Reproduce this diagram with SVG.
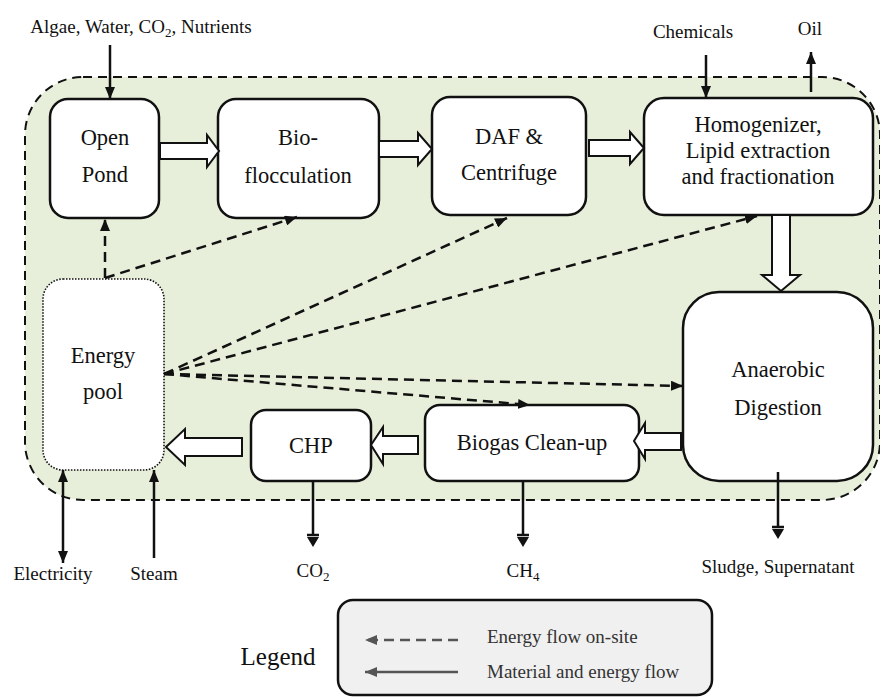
<svg xmlns="http://www.w3.org/2000/svg" width="880" height="697" viewBox="0 0 880 697" font-family="'Liberation Serif', 'DejaVu Serif', serif">
<defs>
<style>
text{font-family:'Liberation Serif','DejaVu Serif',serif;fill:#111}
.lbl{font-size:22.5px;text-anchor:middle}
.out{font-size:19px;text-anchor:middle}
.box{fill:#fff;stroke:#111;stroke-width:2.5}
.blk{fill:#fff;stroke:#111;stroke-width:2;stroke-linejoin:miter}
.dash{fill:none;stroke:#111;stroke-width:2.5;stroke-dasharray:10 6}
.solid{fill:none;stroke:#111;stroke-width:2.5}
.head{fill:#111}
</style>
<marker id="ah" viewBox="0 0 12 10" refX="12" refY="5" markerWidth="12" markerHeight="10" markerUnits="userSpaceOnUse" orient="auto-start-reverse"><path d="M0,0 L12,5 L0,10 z" fill="#111"/></marker>
<marker id="ahg" viewBox="0 0 12 10" refX="12" refY="5" markerWidth="12" markerHeight="10" markerUnits="userSpaceOnUse" orient="auto"><path d="M0,0 L12,5 L0,10 z" fill="#555"/></marker>
</defs>
<rect width="880" height="697" fill="#fff"/>
<g id="boundary">
<rect x="25" y="77" width="855" height="423" rx="58" fill="#e7efda" stroke="#111" stroke-width="2" stroke-dasharray="9 6"/>
</g>
<g id="open-pond"><rect class="box" x="50" y="99" width="109" height="119" rx="18"/><text class="lbl" x="105" y="145">Open</text><text class="lbl" x="105" y="182">Pond</text></g>
<g id="bioflocculation"><rect class="box" x="218" y="99" width="161" height="119" rx="18"/><text class="lbl" x="298" y="145">Bio-</text><text class="lbl" x="298" y="183">flocculation</text></g>
<g id="daf"><rect class="box" x="432" y="97" width="154" height="118" rx="18"/><text class="lbl" x="509" y="144">DAF &amp;</text><text class="lbl" x="509" y="180">Centrifuge</text></g>
<g id="homogenizer"><rect class="box" x="644" y="98" width="229" height="117" rx="20"/><text class="lbl" x="758" y="132">Homogenizer,</text><text class="lbl" x="758" y="158">Lipid extraction</text><text class="lbl" x="758" y="184">and fractionation</text></g>
<g id="anaerobic"><rect class="box" x="683" y="292" width="190" height="189" rx="36"/><text class="lbl" x="778" y="377">Anaerobic</text><text class="lbl" x="778" y="415">Digestion</text></g>
<g id="biogas"><rect class="box" x="425" y="405" width="214" height="76" rx="15"/><text class="lbl" x="532" y="450">Biogas Clean-up</text></g>
<g id="chp"><rect class="box" x="251" y="410" width="120" height="71" rx="15"/><text class="lbl" x="311" y="453">CHP</text></g>
<g id="energy-pool"><rect x="43" y="279" width="121" height="191" rx="20" fill="#fff" stroke="#111" stroke-width="1.6" stroke-dasharray="1.5 1.5"/><text class="lbl" x="103" y="363">Energy</text><text class="lbl" x="103" y="399">pool</text></g>
<g id="connectors">
<polygon class="blk" points="160,143 207,143 207,135 219,151 207,167 207,159 160,159"/>
<polygon class="blk" points="379,141 418,141 418,133 432,149 418,165 418,157 379,157"/>
<polygon class="blk" points="589,140 630,140 630,132 644,148 630,164 630,156 589,156"/>
<polygon class="blk" points="772,215 772,275 762,275 781,291 800,275 790,275 790,215"/>
<polygon class="blk" points="681,433 645,433 645,423 634,441 645,459 645,450 681,450"/>
<polygon class="blk" points="418,436 383,436 383,427 371,445 383,464 383,454 418,454"/>
<polygon class="blk" points="242,438 185,438 185,429 166,447 185,465 185,456 242,456"/>
<path class="dash" d="M105,278 L105,219" marker-end="url(#ah)"/>
<path class="dash" d="M105,278 L297,217" marker-end="url(#ah)"/>
<path class="dash" d="M164,374 L507,218" marker-end="url(#ah)"/>
<path class="dash" d="M164,374 L757,216" marker-end="url(#ah)"/>
<path class="dash" d="M164,374 L683,386" marker-end="url(#ah)"/>
<path class="dash" d="M164,374 L530,405" marker-end="url(#ah)"/>
<path class="solid" d="M110,45 L110,99" marker-end="url(#ah)"/>
<path class="solid" d="M706,55 L706,98" marker-end="url(#ah)"/>
<path class="solid" d="M811,92 L811,52" marker-end="url(#ah)"/>
<path class="solid" d="M63,563 L63,470" marker-start="url(#ah)" marker-end="url(#ah)"/>
<path class="solid" d="M154,558 L154,470" marker-end="url(#ah)"/>
<path class="solid" d="M313,481 L313,535 M307,535 L319,535"/><path class="head" d="M307,537 L319,537 L313,547 z"/>
<path class="solid" d="M523,481 L523,535 M517,535 L529,535"/><path class="head" d="M517,537 L529,537 L523,547 z"/>
<path class="solid" d="M778,472 L778,527 M772,527 L784,527"/><path class="head" d="M772,529 L784,529 L778,539 z"/>
</g>
<g id="labels">
<text class="out" x="141" y="33">Algae, Water, CO<tspan font-size="13" dy="4">2</tspan><tspan dy="-4">, Nutrients</tspan></text>
<text class="out" x="693" y="38">Chemicals</text>
<text class="out" x="810" y="35">Oil</text>
<text class="out" x="53" y="580">Electricity</text>
<text class="out" x="154" y="580">Steam</text>
<text class="out" x="313" y="577">CO<tspan font-size="13" dy="4">2</tspan></text>
<text class="out" x="523" y="577">CH<tspan font-size="13" dy="4">4</tspan></text>
<text class="out" x="778" y="573">Sludge, Supernatant</text>
</g>
<g id="legend">
<rect x="338" y="600" width="374" height="95" rx="15" fill="#f0f0f0" stroke="#111" stroke-width="2.5"/>
<path d="M458,640 L365,640" fill="none" stroke="#555" stroke-width="2.5" stroke-dasharray="10 6" marker-end="url(#ahg)"/>
<path d="M458,672 L365,672" fill="none" stroke="#555" stroke-width="2.5" marker-end="url(#ahg)"/>
<text x="487" y="643" style="font-size:19px;fill:#333">Energy flow on-site</text>
<text x="487" y="678" style="font-size:19px;fill:#333">Material and energy flow</text>
<text x="278" y="665" style="font-size:25px;text-anchor:middle">Legend</text>
</g>
</svg>
